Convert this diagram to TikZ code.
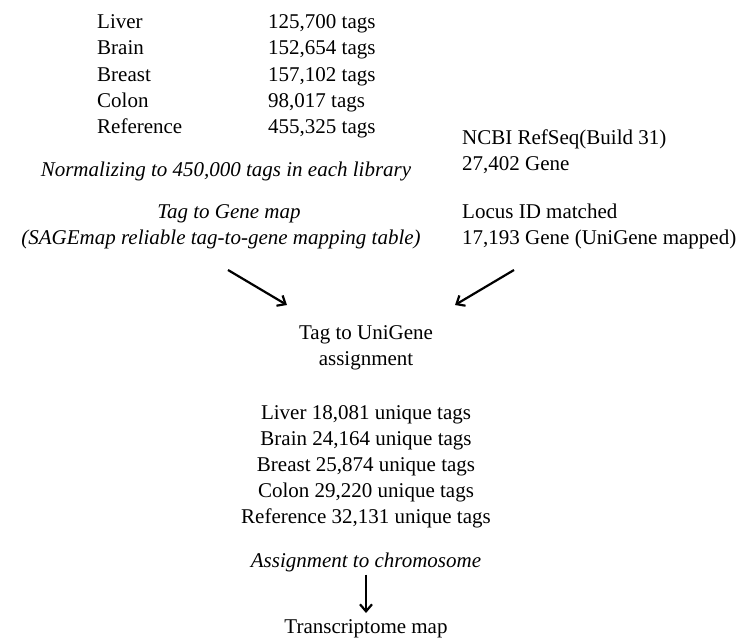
\documentclass[tikz,border=0pt]{standalone}
\usepackage{fontspec}
\setmainfont{Liberation Serif}
\usetikzlibrary{arrows.meta}
\begin{document}
\begin{tikzpicture}[x=1pt,y=-1pt,
  txt/.style={inner sep=0pt,font=\fontsize{21}{25}\selectfont},
  itx/.style={inner sep=0pt,font=\fontsize{21}{25}\selectfont\itshape},
  arr/.style={line width=2.2pt,-{Straight Barb[length=7pt,width=12pt,line width=2.2pt]}}]
\useasboundingbox (0,0) rectangle (750,639);
% top table
\node[txt,anchor=base west] (n1) at (97,29) {Liver};
\node[txt,anchor=base west] (n2) at (97,55) {Brain};
\node[txt,anchor=base west] (n3) at (97,82) {Breast};
\node[txt,anchor=base west] (n4) at (97,108) {Colon};
\node[txt,anchor=base west] (n5) at (97,134) {Reference};
\node[txt,anchor=base west] (v1) at (268,29) {125,700 tags};
\node[txt,anchor=base west] (v2) at (268,55) {152,654 tags};
\node[txt,anchor=base west] (v3) at (268,82) {157,102 tags};
\node[txt,anchor=base west] (v4) at (268,108) {98,017 tags};
\node[txt,anchor=base west] (v5) at (268,134) {455,325 tags};
% right column
\node[txt,anchor=base west] (ncbi) at (462,145) {NCBI RefSeq(Build 31)};
\node[txt,anchor=base west] (gene) at (462,171) {27,402 Gene};
\node[txt,anchor=base west] (locus) at (462,219) {Locus ID matched};
\node[txt,anchor=base west] (matched) at (462,245) {17,193 Gene (UniGene mapped)};
% left column italics
\node[itx,anchor=base] (norm) at (226,177) {Normalizing to 450,000 tags in each library};
\node[itx,anchor=base] (t2g) at (229,219) {Tag to Gene map};
\node[itx,anchor=base] (sage) at (221,245) {(SAGEmap reliable tag-to-gene mapping table)};
% arrows
\coordinate (la) at (228,270);
\coordinate (lb) at (287,305);
\coordinate (ra) at (514,270);
\coordinate (rb) at (455,305);
\draw[arr] (la) -- (lb);
\draw[arr] (ra) -- (rb);
% center
\node[txt,anchor=base] (tu1) at (366,339) {Tag to UniGene};
\node[txt,anchor=base] (tu2) at (366,365) {assignment};
\node[txt,anchor=base] (u1) at (366,419) {Liver 18,081 unique tags};
\node[txt,anchor=base] (u2) at (366,445) {Brain 24,164 unique tags};
\node[txt,anchor=base] (u3) at (366,471) {Breast 25,874 unique tags};
\node[txt,anchor=base] (u4) at (366,497) {Colon 29,220 unique tags};
\node[txt,anchor=base] (u5) at (366,523) {Reference 32,131 unique tags};
\node[itx,anchor=base] (chr) at (366,567) {Assignment to chromosome};
\node[txt,anchor=base] (tmap) at (366,633) {Transcriptome map};
\coordinate (db) at (366,613);
\draw[arr] (chr.south) ++(0,3) coordinate (da) -- (db);
\end{tikzpicture}
\end{document}
